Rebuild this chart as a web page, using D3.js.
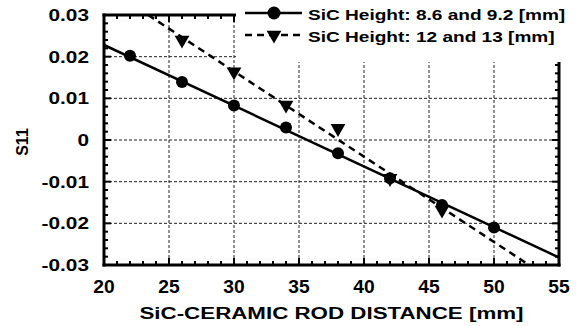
<!DOCTYPE html>
<html>
<head>
<meta charset="utf-8">
<script src="https://cdn.jsdelivr.net/npm/d3@7"></script>
<style>
  body { margin: 0; background: #fff; }
  text { font-family: "Liberation Sans", Arial, sans-serif; font-weight: bold; fill: #000; }
</style>
</head>
<body>
<div id="chart"></div>
<script>
// data
var circleX = [22, 26, 30, 34, 38, 42, 46, 50];
var circleY = [0.0202, 0.0139, 0.0083, 0.0030, -0.0032, -0.0092, -0.0156, -0.0210];
var triX = [26, 30, 34, 38, 42, 46];
var triY = [0.0240, 0.0164, 0.0084, 0.0028, -0.0092, -0.0168];

// straight fit lines (end points)
var solidFitX = [20, 55];
var solidFitY = [0.0228, -0.0282];
var dashFitX = [23.4, 52.7];
var dashFitY = [0.03, -0.03];

var xTicks = [20, 25, 30, 35, 40, 45, 50, 55];
var xMinorTicks = d3.range(20, 56, 1);
var yTicks = [-0.03, -0.02, -0.01, 0, 0.01, 0.02, 0.03];
var yTickLabels = ["-0.03", "-0.02", "-0.01", "0", "0.01", "0.02", "0.03"];
var yMinorTicks = d3.range(-30, 31, 2).map(d => d / 1000);

var legendLabels = ["SiC Height: 8.6 and 9.2 [mm]", "SiC Height: 12 and 13 [mm]"];

var svgWidth = 579;
var svgHeight = 326;
var margin = { top: 15, right: 20, bottom: 61, left: 104 };
var chartWidth = svgWidth - margin.left - margin.right;
var chartHeight = svgHeight - margin.top - margin.bottom;

var svg = d3.select("#chart")
    .append("svg")
    .attr("width", svgWidth)
    .attr("height", svgHeight);

// scales map straight to page pixels
var xScale = d3.scaleLinear().domain([20, 55]).range([margin.left, margin.left + chartWidth]);
var yScale = d3.scaleLinear().domain([-0.03, 0.03]).range([margin.top + chartHeight, margin.top]);
var x0 = xScale(20), x1 = xScale(55), y0 = yScale(-0.03), y1 = yScale(0.03);

// horizontally stretched text, like the original
function addText(g, x, y, str, size, sx, anchor) {
    return g.append("text")
        .attr("transform", `translate(${x}, ${y}) scale(${sx}, 1)`)
        .attr("font-size", size + "px")
        .attr("text-anchor", anchor)
        .text(str);
}

// frame, ticks and grid are drawn as filled boxes
function box(g, x, y, w, h, color) {
    return g.append("rect")
        .attr("x", x).attr("y", y)
        .attr("width", w).attr("height", h)
        .attr("fill", color || "#000");
}

svg.append("defs").append("clipPath").attr("id", "plotclip")
    .append("rect").attr("x", x0).attr("y", y1)
    .attr("width", x1 - x0).attr("height", y0 - y1);

// dashed grid
var gridGroup = svg.append("g");
xTicks.slice(1, -1).forEach(function(d) {
    var x = xScale(d);
    d3.range(y1, y0, 5).forEach(function(t) {
        box(gridGroup, x - 0.5, t, 1, Math.min(3, y0 - t), "#222");
    });
});
yTicks.slice(1, -1).forEach(function(d) {
    var y = yScale(d);
    d3.range(x0, x1, 5).forEach(function(t) {
        box(gridGroup, t, y - 0.5, Math.min(3, x1 - t), 1, "#222");
    });
});

// fit lines
var line = d3.line().x(d => xScale(d[0])).y(d => yScale(d[1]));
var fitGroup = svg.append("g").attr("clip-path", "url(#plotclip)");
fitGroup.append("path")
    .attr("d", line(d3.zip(solidFitX, solidFitY)))
    .attr("fill", "none").attr("stroke", "#000").attr("stroke-width", 2.5);
fitGroup.append("path")
    .attr("d", line(d3.zip(dashFitX, dashFitY)))
    .attr("fill", "none").attr("stroke", "#000").attr("stroke-width", 2.5)
    .attr("stroke-dasharray", "7,5");

// markers
var triangle = d3.symbol().type(d3.symbolTriangle).size(95);
svg.selectAll(".tri")
    .data(d3.zip(triX, triY))
    .enter().append("path")
    .attr("d", triangle)
    .attr("transform", d => `translate(${xScale(d[0])}, ${yScale(d[1])}) rotate(180)`)
    .attr("fill", "#000");
svg.selectAll(".dot")
    .data(d3.zip(circleX, circleY))
    .enter().append("circle")
    .attr("cx", d => xScale(d[0]))
    .attr("cy", d => yScale(d[1]))
    .attr("r", 6)
    .attr("fill", "#000");

// ticks pointing inward on all four sides
var axisGroup = svg.append("g");
xMinorTicks.forEach(function(d) {
    var k = d % 5 === 0 ? 7 : 4, x = xScale(d);
    box(axisGroup, x - 1, y0 - k, 2, k);
    box(axisGroup, x - 1, y1, 2, k);
});
yMinorTicks.forEach(function(d) {
    var k = Math.round(d * 1000) % 10 === 0 ? 7 : 4, y = yScale(d);
    box(axisGroup, x0, y - 1, k, 2);
    box(axisGroup, x1 - k, y - 1, k, 2);
});

// frame
box(axisGroup, x0 - 1.5, y1 - 1.5, x1 - x0 + 3, 3);
box(axisGroup, x0 - 1.5, y0 - 1.5, x1 - x0 + 3, 3);
box(axisGroup, x0 - 1.5, y1 - 1.5, 3, y0 - y1 + 3);
box(axisGroup, x1 - 1.5, y1 - 1.5, 3, y0 - y1 + 3);

// tick labels
xTicks.forEach(function(d) {
    addText(svg, xScale(d), y0 + 28, String(d), 17.5, 1.1, "middle");
});
yTicks.forEach(function(d, i) {
    addText(svg, x0 - 15, yScale(d) + 6, yTickLabels[i], 16, 1.3, "end");
});

// axis titles
addText(svg, (x0 + x1) / 2, y0 + 54, "SiC-CERAMIC ROD DISTANCE [mm]", 16.8, 1.33, "middle");
svg.append("text")
    .attr("transform", "translate(22, 142) rotate(-90)")
    .attr("text-anchor", "middle")
    .attr("dy", "0.36em")
    .attr("font-size", "16px")
    .attr("font-weight", "bold")
    .text("S11");

// legend, white box over the top right of the plot
var legend = svg.append("g");
box(legend, 236, 0, svgWidth - 236, 62, "#fff");
var legendY = [13, 35];
legend.append("path")
    .attr("d", `M245,${legendY[0]}H302`)
    .attr("stroke", "#000").attr("stroke-width", 2.5);
legend.append("circle").attr("cx", 274).attr("cy", legendY[0]).attr("r", 6.5).attr("fill", "#000");
legend.append("path")
    .attr("d", `M245,${legendY[1]}H302`)
    .attr("stroke", "#000").attr("stroke-width", 2.5).attr("stroke-dasharray", "7,5");
legend.append("path")
    .attr("d", triangle)
    .attr("transform", `translate(274, ${legendY[1]}) rotate(180)`)
    .attr("fill", "#000");
legendLabels.forEach(function(t, i) {
    addText(legend, 308, legendY[i] + 7, t, 15.5, 1.23, "start");
});
</script>
</body>
</html>
